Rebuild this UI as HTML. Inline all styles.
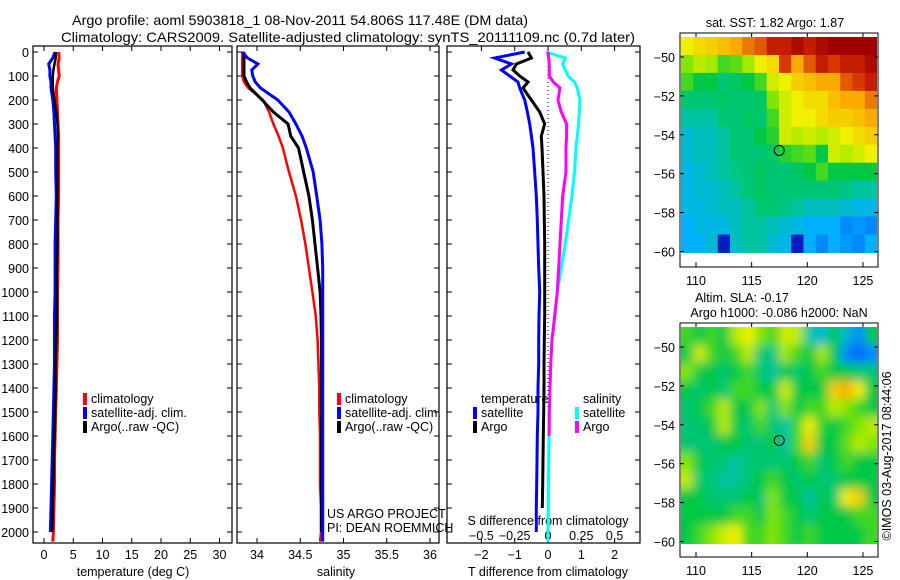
<!DOCTYPE html>
<html><head><meta charset="utf-8">
<style>
html,body{margin:0;padding:0;background:#fff;}
svg{display:block;font-family:"Liberation Sans",sans-serif;}
</style></head>
<body>
<svg id="fig" width="900" height="580" viewBox="0 0 900 580" xmlns="http://www.w3.org/2000/svg">
<defs>
<filter id="blur" x="-5%" y="-5%" width="110%" height="110%"><feGaussianBlur stdDeviation="5"/></filter>
<clipPath id="clip-sla"><rect x="681" y="327" width="196" height="217"/></clipPath>
<clipPath id="clip-sst"><rect x="681" y="37" width="196" height="217"/></clipPath>
</defs>
<text x="72" y="25" font-size="14" textLength="456" lengthAdjust="spacingAndGlyphs">Argo profile: aoml 5903818_1 08-Nov-2011 54.806S 117.48E (DM data)</text>
<text x="61" y="42" font-size="14" textLength="574" lengthAdjust="spacingAndGlyphs">Climatology: CARS2009. Satellite-adjusted climatology: synTS_20111109.nc (0.7d later)</text>
<g id="g"></g>
</svg>
<script>
// ---------- data ----------
const depths = [0,25,50,75,100,125,150,200,250,300,350,400,500,600,700,800,900,1000,1100,1200,1300,1400,1500,1600,1700,1800,1900,2000,2040];
const tempClim = [2.5,2.6,2.4,2.5,2.6,2.3,2.1,2.2,2.3,2.4,2.5,2.5,2.5,2.5,2.4,2.4,2.4,2.3,2.3,2.3,2.2,2.1,2.0,1.9,1.8,1.8,1.7,1.6,1.5];
const tempSat = [1.9,1.5,0.8,1.0,1.0,1.2,1.2,1.5,1.7,1.8,1.9,2.0,2.0,2.1,2.0,1.9,1.9,1.9,1.8,1.8,1.8,1.7,1.6,1.5,1.4,1.3,1.2,1.1,1.1];
const tempArgo = [2.0,2.0,1.8,1.6,1.5,1.5,1.5,1.8,2.1,2.3,2.4,2.3,2.3,2.3,2.3,2.3,2.2,2.2,2.2,2.1,2.0,2.0,1.9,1.8,1.7,1.6,1.5,1.4,1.4];
const salClim = [33.83,33.83,33.83,33.83,33.83,33.85,33.9,34.07,34.14,34.19,34.25,34.3,34.37,34.45,34.51,34.56,34.6,34.64,34.68,34.7,34.71,34.72,34.72,34.73,34.73,34.73,34.74,34.74,34.73];
const salSat = [33.83,33.89,34.01,33.94,33.95,33.98,34.04,34.24,34.37,34.45,34.52,34.57,34.65,34.69,34.73,34.75,34.76,34.76,34.76,34.76,34.76,34.76,34.76,34.76,34.76,34.76,34.76,34.76,34.76];
const salArgo = [33.85,33.85,33.85,33.85,33.85,33.88,33.92,34.06,34.19,34.36,34.39,34.48,34.54,34.6,34.64,34.67,34.7,34.73,34.74,34.745,34.745,34.745,34.745,34.745,34.745,34.745,34.745,34.745,34.745];
const dTSat = [-0.7,-1.6,-1.1,-1.4,-1.15,-0.9,-0.85,-0.7,-0.62,-0.55,-0.5,-0.45,-0.4,-0.35,-0.32,-0.3,-0.28,-0.25,-0.27,-0.28,-0.28,-0.3,-0.3,-0.32,-0.33,-0.34,-0.35,-0.35,-0.35];
const dTArgo = [-0.6,-0.5,-0.95,-1.05,-0.85,-0.6,-0.75,-0.5,-0.25,-0.1,-0.2,-0.18,-0.15,-0.12,-0.11,-0.1,-0.1,-0.1,-0.1,-0.11,-0.12,-0.12,-0.13,-0.14,-0.15,-0.16,-0.17,-0.17,-0.17];
const dSArgo = [0,0.005,0.01,0.01,0.01,0.04,0.09,0.075,0.1,0.14,0.14,0.135,0.135,0.11,0.1,0.09,0.08,0.07,0.05,0.03,0.02,0.015,0.01,0.008,0.005,0.005,0.005,0.005,0.005];
const dSSat = [-0.015,0.13,0.11,0.13,0.15,0.2,0.22,0.24,0.235,0.23,0.22,0.21,0.2,0.18,0.155,0.13,0.1,0.07,0.05,0.03,0.02,0.015,0.01,0.008,0.005,0.003,0.002,0.0,0.0];
const depthTicks = [0,100,200,300,400,500,600,700,800,900,1000,1100,1200,1300,1400,1500,1600,1700,1800,1900,2000];
const tempTicks = [0,5,10,15,20,25,30];
const salTicks = [34,34.5,35,35.5,36];
const salTickLabels = ["34","34.5","35","35.5","36"];
const dTTicks = [-2,-1,0,1,2];
const dSTicks = [-0.5,-0.25,0,0.25,0.5];
const dSTickLabels = ["\u22120.5","\u22120.25","0","0.25","0.5"];
const lonTicks = [110,115,120,125];
const latTicks = [-50,-52,-54,-56,-58,-60];
// map grids (0..1 colour index), rows north->south
const sstGrid = [
[.75,.78,.8,.82,.85,.88,.9,.95,.95,.98,.95,.98,1,1,1,1],
[.65,.7,.68,.6,.62,.68,.75,.78,.92,.85,.9,.95,.92,.95,.95,.98],
[.6,.55,.55,.5,.52,.55,.6,.72,.75,.8,.82,.85,.85,.9,.92,.95],
[.5,.5,.5,.52,.5,.5,.52,.65,.72,.75,.78,.78,.82,.85,.85,.88],
[.45,.45,.45,.5,.5,.52,.5,.6,.72,.75,.75,.78,.8,.8,.82,.85],
[.4,.42,.42,.45,.5,.5,.55,.58,.72,.7,.72,.7,.72,.75,.78,.8],
[.4,.42,.42,.45,.5,.5,.5,.52,.58,.6,.62,.55,.72,.7,.72,.75],
[.38,.4,.42,.45,.48,.5,.52,.5,.5,.52,.55,.6,.55,.55,.55,.55],
[.38,.4,.4,.42,.45,.5,.52,.5,.5,.5,.5,.5,.5,.48,.45,.45],
[.38,.38,.4,.42,.42,.45,.5,.5,.48,.45,.42,.42,.42,.4,.38,.38],
[.35,.38,.38,.38,.42,.45,.45,.42,.4,.38,.35,.35,.35,.3,.32,.3],
[.35,.35,.4,.1,.42,.45,.45,.4,.38,.1,.35,.3,.35,.32,.3,.35]];
const slaGrid = [
[.6,.55,.6,.55,.7,.75,.65,.6,.72,.7,.45,.4,.55,.4,.3,.55],
[.55,.72,.6,.55,.6,.7,.5,.48,.68,.6,.55,.68,.55,.3,.25,.3],
[.65,.55,.55,.5,.55,.6,.5,.45,.55,.5,.55,.6,.55,.55,.5,.5],
[.55,.5,.55,.5,.6,.6,.55,.55,.72,.55,.55,.55,.8,.85,.75,.55],
[.5,.55,.6,.7,.55,.55,.65,.5,.65,.55,.6,.6,.7,.65,.6,.55],
[.5,.5,.55,.7,.55,.5,.6,.5,.45,.6,.75,.58,.55,.6,.65,.7],
[.5,.5,.5,.55,.55,.5,.5,.55,.45,.6,.8,.55,.55,.62,.7,.65],
[.65,.55,.5,.5,.45,.5,.5,.5,.5,.55,.6,.5,.55,.6,.55,.55],
[.7,.5,.5,.45,.45,.5,.55,.6,.55,.5,.55,.5,.5,.55,.55,.55],
[.55,.55,.5,.5,.5,.55,.5,.65,.55,.55,.45,.55,.5,.75,.8,.55],
[.55,.55,.55,.55,.6,.6,.55,.65,.6,.55,.5,.55,.55,.55,.6,.6],
[.55,.6,.65,.72,.75,.6,.6,.65,.6,.55,.6,.55,.55,.55,.55,.6]];
const argoLon = 117.48, argoLat = -54.806;

// ---------- helpers ----------
const NS="http://www.w3.org/2000/svg";
const G=document.getElementById('g');
const FS=12.5;
function mk(tag,attrs,parent){const e=document.createElementNS(NS,tag);for(const k in attrs)e.setAttribute(k,attrs[k]);(parent||G).appendChild(e);return e;}
function txt(s,x,y,anchor,size,parent){const t=mk('text',{x:x,y:y,'text-anchor':anchor||'middle','font-size':size||FS},parent);t.textContent=s;return t;}
const yD = d => 52 + d*0.24;
const PT=46, PB=543;

function panel(name,x0,x1){
  const r=mk('rect',{x:x0,y:PT,width:x1-x0,height:PB-PT,fill:'none',stroke:'#000','stroke-width':1.2});
  
  
  depthTicks.forEach(d=>{
    const t1=mk('line',{x1:x0,x2:x0+5,y1:yD(d),y2:yD(d),stroke:'#000'});
    
    
    const t2=mk('line',{x1:x1,x2:x1-5,y1:yD(d),y2:yD(d),stroke:'#000'});
    
    
  });
}
function line(name,xs,ds,fx,color,w,maxD){
  const pts=[];
  for(let i=0;i<xs.length;i++){ if(maxD!==undefined && ds[i]>maxD) break; pts.push(fx(xs[i]).toFixed(1)+','+yD(ds[i]).toFixed(1)); }
  const p=mk('polyline',{points:pts.join(' '),fill:'none',stroke:color,'stroke-width':w});
  
  
}
function legendEntry(name,x,y,color,label){
  const m=mk('rect',{x:x,y:y-10,width:4,height:12,fill:color});
  
  
  const t=txt(label,x+8,y,'start',FS);
  
  
}

// ---------- panel 1: temperature ----------
const fT = t => 44 + t*5.85;
panel('temperature-panel',33,232);
depthTicks.forEach(d=>{const t=txt(String(d),29,yD(d)+5,'end',FS);
  
  });
tempTicks.forEach(v=>{
  const l=mk('line',{x1:fT(v),x2:fT(v),y1:PB,y2:PB-5,stroke:'#000'});
  
  
  const l2=mk('line',{x1:fT(v),x2:fT(v),y1:PT,y2:PT+5,stroke:'#000'});
  
  
  const t=txt(String(v),fT(v),559,'middle',FS);
  
  
});
{const t=txt('temperature (deg C)',133,576,'middle',FS);
 
 }
line('temperature-climatology-line',tempClim,depths,fT,'#ff0000',3);
line('temperature-satellite-line',tempSat,depths,fT,'#0000ff',3,2000);
line('temperature-argo-line',tempArgo,depths,fT,'#000000',2.5,2000);
legendEntry('legend-climatology',83,403,'#ff0000','climatology');
legendEntry('legend-satellite-adj',83,417,'#0000ff','satellite-adj. clim.');
legendEntry('legend-argo',83,431,'#000000','Argo(..raw -QC)');

// ---------- panel 2: salinity ----------
const fS = s => 257 + (s-34)*86.5;
panel('salinity-panel',237,439);
salTicks.forEach((v,i)=>{
  const l=mk('line',{x1:fS(v),x2:fS(v),y1:PB,y2:PB-5,stroke:'#000'});
  
  
  const l2=mk('line',{x1:fS(v),x2:fS(v),y1:PT,y2:PT+5,stroke:'#000'});
  
  
  const t=txt(salTickLabels[i],fS(v),559,'middle',FS);
  
  
});
{const t=txt('salinity',336,576,'middle',FS);
 
 }
line('salinity-climatology-line',salClim,depths,fS,'#ff0000',2.5);
line('salinity-argo-line',salArgo,depths,fS,'#000000',3,2000);
line('salinity-satellite-line',salSat,depths,fS,'#0000ff',3);
legendEntry('legend-climatology-2',337,403,'#ff0000','climatology');
legendEntry('legend-satellite-adj-2',337,417,'#0000ff','satellite-adj. clim.');
legendEntry('legend-argo-2',337,431,'#000000','Argo(..raw -QC)');
{const t=txt('US ARGO PROJECT',327,518,'start',FS);
 
 
 const t2=txt('PI: DEAN ROEMMICH',327,532,'start',FS);
 
 }

// ---------- panel 3: differences ----------
const fdT = v => 548 + v*33.3;
const fdS = v => 548 + v*133.2;
panel('difference-panel',447,640);
{const z=mk('line',{x1:548,x2:548,y1:PT,y2:PB,stroke:'#000','stroke-dasharray':'1,3'});
 
 }
dTTicks.forEach(v=>{
  const l=mk('line',{x1:fdT(v),x2:fdT(v),y1:PB,y2:PB-5,stroke:'#000'});
  
  
  const l2=mk('line',{x1:fdT(v),x2:fdT(v),y1:PT,y2:PT+5,stroke:'#000'});
  
  
  const t=txt(v<0?'\u2212'+Math.abs(v):String(v),fdT(v),559,'middle',FS);
  
  
});
dSTicks.forEach((v,i)=>{
  const t=txt(dSTickLabels[i],fdS(v),540,'middle',FS);
  
  
});
{const t=txt('T difference from climatology',548,576,'middle',FS);
 
 
 const t2=txt('S difference from climatology',548,525,'middle',FS);
 
 }
line('t-diff-satellite-line',dTSat,depths,fdT,'#0000ff',3,2000);
line('t-diff-argo-line',dTArgo,depths,fdT,'#000000',3,1990);
line('s-diff-satellite-line',dSSat,depths,fdS,'#00ffff',3);
line('s-diff-argo-line',dSArgo,depths,fdS,'#ff00ff',3,1650);
{const t=txt('temperature',481,403,'start',FS);
 
 
 const t2=txt('salinity',583,403,'start',FS);
 
 }
legendEntry('legend-t-satellite',473,417,'#0000ff','satellite');
legendEntry('legend-t-argo',473,431,'#000000','Argo');
legendEntry('legend-s-satellite',575,417,'#00ffff','satellite');
legendEntry('legend-s-argo',575,431,'#ff00ff','Argo');

// ---------- maps ----------
const cstops=[[0,[0,0,140]],[0.2,[0,60,255]],[0.35,[0,176,255]],[0.45,[0,196,160]],[0.55,[0,200,70]],[0.65,[130,230,0]],[0.75,[240,240,0]],[0.85,[250,170,0]],[0.93,[210,40,0]],[1,[160,0,0]]];
function cmap(v){for(let i=1;i<cstops.length;i++){if(v<=cstops[i][0]){const a=cstops[i-1],b=cstops[i];const f=(v-a[0])/(b[0]-a[0]);const c=a[1].map((x,k)=>Math.round(x+(b[1][k]-x)*f));return 'rgb('+c.join(',')+')';}}return 'rgb(160,0,0)';}
function mapPanel(name,grid,top,titleLines,smooth){
  const fx = lon => 696 + (lon-110)*11.13;
  const fy = lat => top + 24 + (-50-lat)*19.45;
  const dx0=681, dx1=877, dy0=top+4, dy1=fy(-60.05);
  const rows=grid.length, cols=grid[0].length;
  const cw=(dx1-dx0)/cols, ch=(dy1-dy0)/rows;
  const outer=mk('g',{'clip-path':smooth?'url(#clip-sla)':'url(#clip-sst)'});
  
  
  const cg=mk('g',smooth?{filter:'url(#blur)'}:{},outer);
  grid.forEach((row,r)=>row.forEach((v,c)=>{
    // extend edge cells outwards when smoothing so blur doesn't fade edges
    let x=dx0+c*cw, y=dy0+r*ch, w=cw+0.5, h=ch+0.5;
    if(smooth){ if(c===0){x-=10;w+=10;} if(c===cols-1){w+=10;} if(r===0){y-=10;h+=10;} if(r===rows-1){h+=10;} }
    const cell=mk('rect',{x:x.toFixed(2),y:y.toFixed(2),width:w.toFixed(2),height:h.toFixed(2),fill:cmap(v)},cg);
    
    
  }));
  const fr=mk('rect',{x:680,y:top,width:198,height:234,fill:'none',stroke:'#000','stroke-width':1});
  
  
  lonTicks.forEach(v=>{
    const l=mk('line',{x1:fx(v),x2:fx(v),y1:top+234,y2:top+229,stroke:'#000'});
    
    
    const l2=mk('line',{x1:fx(v),x2:fx(v),y1:top,y2:top+4,stroke:'#000'});
    
    
    const t=txt(String(v),fx(v),top+252,'middle',FS);
    
    
  });
  latTicks.forEach(v=>{
    const l=mk('line',{x1:680,x2:684,y1:fy(v),y2:fy(v),stroke:'#000'});
    
    
    const l2=mk('line',{x1:878,x2:874,y1:fy(v),y2:fy(v),stroke:'#000'});
    
    
    const t=txt('\u2212'+Math.abs(v),675,fy(v)+5,'end',FS);
    
    
  });
  const c=mk('circle',{cx:fx(argoLon),cy:fy(argoLat),r:5,fill:'none',stroke:'#000','stroke-width':1});
  
  
  titleLines.forEach(s=>{
    const t=txt(s[0],s[1],s[2],'middle',FS);
    
    
  });
}
mapPanel('sst-map',sstGrid,33,[['sat. SST: 1.82 Argo: 1.87',775,27]],false);
mapPanel('sla-map',slaGrid,323,[['Altim. SLA: -0.17',742,302],['Argo h1000: -0.086 h2000: NaN',779,317]],true);
{const t=txt('\u00a9IMOS 03-Aug-2017 08:44:06',0,0,'middle',FS);
 t.setAttribute('transform','translate(891,456) rotate(-90)');
 
 }
</script>
</body></html>
